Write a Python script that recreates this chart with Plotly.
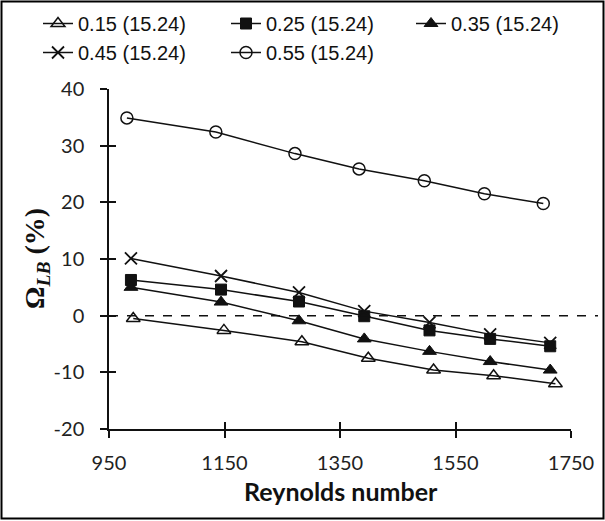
import plotly.graph_objects as go

# Data
series_names = ["0.15 (15.24)", "0.25 (15.24)", "0.35 (15.24)", "0.45 (15.24)", "0.55 (15.24)"]

re_015 = [992, 1149, 1284, 1399, 1512, 1616, 1723]
om_015 = [-0.5, -2.6, -4.6, -7.5, -9.6, -10.6, -12.0]

re_025 = [988, 1144, 1279, 1392, 1505, 1610, 1714]
om_025 = [6.3, 4.6, 2.5, -0.1, -2.6, -4.1, -5.4]

re_035 = [988, 1144, 1279, 1392, 1505, 1610, 1714]
om_035 = [5.0, 2.4, -0.9, -4.1, -6.3, -8.1, -9.6]

re_045 = [988, 1144, 1279, 1392, 1505, 1610, 1714]
om_045 = [10.1, 7.0, 4.1, 0.8, -1.2, -3.3, -4.8]

re_055 = [981, 1135, 1272, 1383, 1496, 1600, 1702]
om_055 = [34.9, 32.4, 28.6, 25.9, 23.8, 21.5, 19.8]

x_ticks = [950, 1150, 1350, 1550, 1750]
x_ticktext = ["950", "1150", "1350", "1550", "1750"]
y_ticks = [-20, -10, 0, 10, 20, 30, 40]
y_ticktext = ["-20", "-10", "0", "10", "20", "30", "40"]

INK = "#111111"

styles = [
    dict(symbol="triangle-up-open", size=12, color=INK, line=dict(color=INK, width=1.5)),
    dict(symbol="square", size=11, color=INK, line=dict(color=INK, width=1)),
    dict(symbol="triangle-up", size=12, color=INK, line=dict(color=INK, width=1)),
    dict(symbol="x-thin-open", size=12, color=INK, line=dict(color=INK, width=1.8)),
    dict(symbol="circle-open", size=12, color=INK, line=dict(color=INK, width=1.5)),
]
legend_ids = ["legend", "legend2", "legend3", "legend", "legend2"]

data = [(re_015, om_015), (re_025, om_025), (re_035, om_035), (re_045, om_045), (re_055, om_055)]

fig = go.Figure()
for name, (xs, ys), mk, lg in zip(series_names, data, styles, legend_ids):
    fig.add_trace(go.Scatter(
        x=xs, y=ys, name=name, mode="lines+markers",
        line=dict(color=INK, width=1.5),
        marker=mk, legend=lg,
    ))

# empty trace on overlay axes to draw inward half of the crossing ticks
fig.add_trace(go.Scatter(x=[], y=[], xaxis="x2", yaxis="y2", showlegend=False, hoverinfo="skip"))

axis_common = dict(showgrid=False, zeroline=False, linecolor=INK, linewidth=1.5,
                   tickcolor=INK, tickwidth=1.5, ticklen=7)

L, R, T, B = 109, 34, 89, 92
PW, PH = 605 - L - R, 521 - T - B


def px_x(p):
    return (p - L) / PW


def px_y(p):
    return (521 - B - p) / PH


legend_common = dict(orientation="v", yanchor="top", xanchor="left",
                     font=dict(family="Liberation Sans, Arial", size=20, color="#111"),
                     itemwidth=30, bgcolor="rgba(0,0,0,0)", tracegroupgap=0,
                     borderwidth=0)

fig.update_layout(
    width=605, height=521,
    margin=dict(l=L, r=R, t=T, b=B, autoexpand=False),
    paper_bgcolor="white", plot_bgcolor="white",
    font=dict(family="Liberation Sans, Arial", color="#000000"),
    xaxis=dict(range=[950, 1750], tickvals=x_ticks, ticktext=x_ticktext, ticks="outside",
               showline=True, tickfont=dict(family="Lato", size=20, color="#222"),
               ticklabelstandoff=8, automargin=False, **axis_common),
    yaxis=dict(range=[-20, 40], tickvals=y_ticks, ticktext=y_ticktext, ticks="outside",
               showline=True, tickfont=dict(family="Lato", size=20, color="#222"),
               ticklabelstandoff=12, automargin=False, **axis_common),
    xaxis2=dict(range=[950, 1750], tickvals=x_ticks, ticks="inside", overlaying="x",
                anchor="y2", showticklabels=False, showline=False, **axis_common),
    yaxis2=dict(range=[-20, 40], tickvals=y_ticks, ticks="inside", overlaying="y",
                anchor="x2", showticklabels=False, showline=False, **axis_common),
    legend=dict(x=px_x(38), y=px_y(4), **legend_common),
    legend2=dict(x=px_x(226), y=px_y(4), **legend_common),
    legend3=dict(x=px_x(411), y=px_y(4), **legend_common),
)

# dashed zero line, extending slightly past the plot area
fig.add_shape(type="line", xref="paper", yref="y", x0=0, x1=px_x(598), y0=0, y1=0,
              line=dict(color=INK, width=1.5, dash="dash"))

# outer frame
fig.add_shape(type="rect", xref="paper", yref="paper",
              x0=px_x(1.5), x1=px_x(603.5), y0=px_y(518.5), y1=px_y(1.5),
              line=dict(color="#000", width=2), fillcolor="rgba(0,0,0,0)", layer="below")

fig.add_annotation(text="<b>Reynolds number</b>", xref="paper", yref="paper",
                   x=px_x(341), y=px_y(491), xanchor="center", yanchor="middle",
                   showarrow=False, font=dict(family="Lato", size=25, color="#111"))

fig.add_annotation(text="<b>Ω<sub><i>LB</i></sub> (%)</b>", xref="paper", yref="paper",
                   x=px_x(36), y=0.5, xanchor="center", yanchor="middle",
                   textangle=-90, showarrow=False,
                   font=dict(family="Liberation Serif, Times New Roman", size=28, color="#111"))

fig.write_html(
    "out.html",
    config={"displayModeBar": False},
    post_script="document.body.style.margin='0';document.body.style.overflow='hidden';",
)
